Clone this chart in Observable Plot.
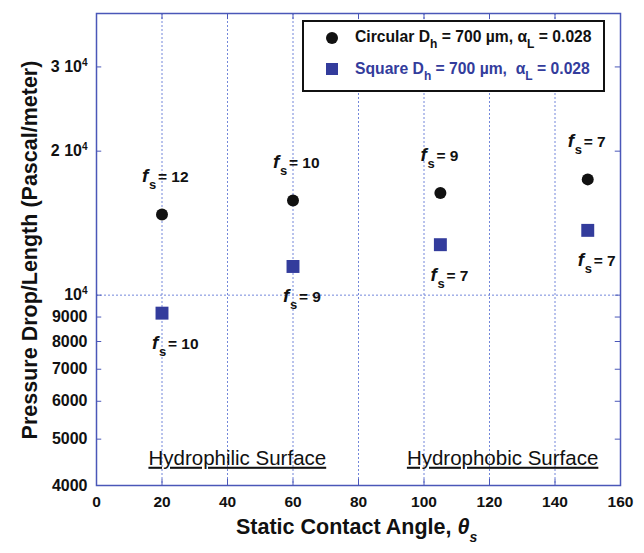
<!DOCTYPE html>
<html><head><meta charset="utf-8">
<script src="https://cdn.jsdelivr.net/npm/d3@7"></script>
<script src="https://cdn.jsdelivr.net/npm/@observablehq/plot@0.6"></script>
<style>
body{margin:0;background:#fff;font-family:"Liberation Sans",Arial,sans-serif;}
#wrap{position:relative;width:644px;height:553px;}
.ov{position:absolute;white-space:nowrap;font-weight:bold;}
.sub{font-size:12px;position:relative;top:6px;}
</style></head><body><div id="wrap"></div>
<script>
// ---- data ----
const angles = [20, 60, 105, 150];
const circular = [14750, 15780, 16350, 17460];
const square = [9170, 11480, 12750, 13660];
const circularFs = ["12", "10", "9", "7"];
const squareFs = ["10", "9", "7", "7"];
const xTicks = [0, 20, 40, 60, 80, 100, 120, 140, 160];
const gridX = [20, 40, 60, 80, 100, 120, 140];
const yTicks = [4000, 5000, 6000, 7000, 8000, 9000, 10000, 20000, 30000];
const yTickLabels = ["4000", "5000", "6000", "7000", "8000", "9000", "10^4", "2 10^4", "3 10^4"];
const regionNames = ["Hydrophilic Surface", "Hydrophobic Surface"];
const regionMid = [43, 124];
const seriesNames = ["Circular", "Square"];

const BLUE = "#4a57b8";
const GRID = "#5a72d4";
const SQ = "#333c9c";
const yDom = [4000, 38800];

const circ = angles.map((a, i) => ({a, v: circular[i], fs: circularFs[i]}));
const sq = angles.map((a, i) => ({a, v: square[i], fs: squareFs[i]}));
const regions = regionNames.map((n, i) => ({n, x: regionMid[i], y: 4420}));

function fsLabel(data, dy, dx) {
  return [
    Plot.text(data, {x: "a", y: "v", text: () => "f", dx: dx, dy: dy, textAnchor: "start", lineAnchor: "bottom",
      fontSize: 19, fontStyle: "italic", fontWeight: "bold", fill: "#111"}),
    Plot.text(data, {x: "a", y: "v", text: () => "s", dx: dx + 7, dy: dy + 7, textAnchor: "start", lineAnchor: "bottom",
      fontSize: 13, fontWeight: "bold", fill: "#111"}),
    Plot.text(data, {x: "a", y: "v", text: d => "= " + d.fs, dx: dx + 16, dy: dy, textAnchor: "start", lineAnchor: "bottom",
      fontSize: 15.5, fontWeight: "bold", fill: "#111"})
  ];
}

const chart = Plot.plot({
  width: 644, height: 553,
  marginLeft: 96, marginRight: 24, marginTop: 13, marginBottom: 68,
  style: {fontFamily: "Liberation Sans, Arial, sans-serif", fontSize: "15px", fontWeight: "bold", color: "#111", background: "transparent"},
  x: {domain: [0, 160], ticks: xTicks, label: null},
  y: {type: "log", domain: yDom, ticks: yTicks, label: null},
  marks: [
    Plot.ruleX(gridX, {x: d => d, stroke: GRID, strokeWidth: 1, strokeDasharray: "2,2", strokeOpacity: 0.85}),
    Plot.ruleY([10000], {y: d => d, stroke: GRID, strokeWidth: 1, strokeDasharray: "2,2", strokeOpacity: 0.85}),
    Plot.ruleY(yTicks, {y: d => d, x1: 0, x2: 1.6, stroke: BLUE}),
    Plot.ruleY(yTicks, {y: d => d, x1: 158.4, x2: 160, stroke: BLUE}),
    Plot.ruleX(xTicks, {x: d => d, y1: yDom[0], y2: yDom[0] * 1.03, stroke: BLUE}),
    Plot.ruleX(xTicks, {x: d => d, y1: yDom[1] / 1.03, y2: yDom[1], stroke: BLUE}),
    Plot.frame({stroke: BLUE, strokeWidth: 1.5}),
    Plot.axisX({ticks: xTicks, tickSize: 0, tickPadding: 10, fontSize: 15.5, fontWeight: "bold", label: null}),
    Plot.axisY({ticks: yTicks, tickSize: 0, tickPadding: 9, fontSize: 16, fontWeight: "bold", label: null,
      tickFormat: d => yTickLabels[yTicks.indexOf(d)]}),
    Plot.text(regions, {x: "x", y: "y", text: "n", lineAnchor: "bottom", fontSize: 20.5, fontWeight: "normal", fill: "#111"}),
    Plot.dot(circ, {x: "a", y: "v", r: 6, fill: "#111", stroke: null}),
    Plot.dot(sq, {x: "a", y: "v", symbol: "square", r: 7.3, fill: SQ, stroke: null}),
    ...fsLabel(circ, -32, -20),
    ...fsLabel(sq, 36, -10)
  ]
});
document.getElementById("wrap").appendChild(chart);

// superscripts on y tick labels, underline region labels
d3.select(chart).selectAll("text").each(function() {
  const t = d3.select(this);
  const s = this.textContent;
  if (s.includes("^")) {
    const [base, exp] = s.split("^");
    t.text(null);
    t.append("tspan").text(base);
    t.append("tspan").attr("font-size", 10).attr("dy", "-0.6em").text(exp);
  }
  if (regionNames.includes(s)) t.style("text-decoration", "underline");
});

// legend & axis titles (HTML overlays)
const wrap = document.getElementById("wrap");
wrap.insertAdjacentHTML("beforeend", `
<div style="position:absolute;left:302px;top:20px;width:299px;height:68px;border:2px solid #111;background:#fff;"></div>
<div style="position:absolute;left:326px;top:32px;width:12px;height:12px;border-radius:50%;background:#111;"></div>
<div style="position:absolute;left:326px;top:63px;width:12px;height:12px;background:${SQ};"></div>
<div class="ov" style="left:355px;top:28px;font-size:15.7px;color:#111;">${seriesNames[0]} D<span class="sub">h</span> = 700 µm, α<span class="sub">L</span> = 0.028</div>
<div class="ov" style="left:355px;top:60px;font-size:15.7px;color:${SQ};">${seriesNames[1]} D<span class="sub">h</span> = 700 µm,&nbsp; α<span class="sub">L</span> = 0.028</div>
<div class="ov" style="left:236px;top:515px;font-size:21.5px;color:#111;">Static Contact Angle, <i>θ</i><span class="sub" style="font-style:italic;font-size:14px;top:8px;">s</span></div>
<div class="ov" style="left:30px;top:250px;font-size:21.5px;color:#111;transform:translate(-50%,-50%) rotate(-90deg);">Pressure Drop/Length (Pascal/meter)</div>
`);
</script></body></html>
